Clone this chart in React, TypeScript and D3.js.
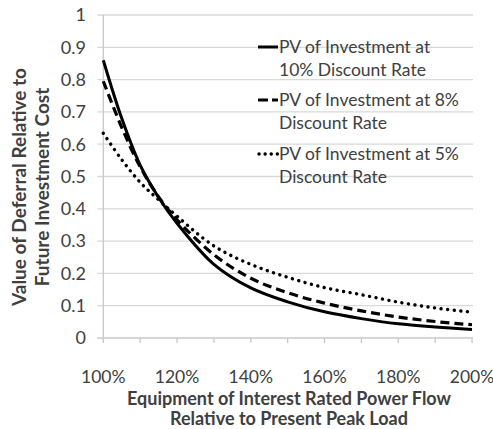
import { useEffect, useRef } from 'react';
import * as d3 from 'd3';

// equipment rating relative to present peak load
const loadRatio = [1.0, 1.05, 1.1, 1.15, 1.2, 1.3, 1.4, 1.5, 1.6, 1.7, 1.8, 1.9, 2.0];
const pv10 = [0.86, 0.68, 0.535, 0.435, 0.355, 0.228, 0.155, 0.112, 0.081, 0.06, 0.044, 0.034, 0.026];
const pv8 = [0.795, 0.652, 0.53, 0.437, 0.366, 0.258, 0.185, 0.14, 0.108, 0.084, 0.065, 0.051, 0.041];
const pv5 = [0.634, 0.552, 0.482, 0.428, 0.377, 0.285, 0.228, 0.188, 0.156, 0.134, 0.111, 0.093, 0.08];

const yTicks = [0, 0.1, 0.2, 0.3, 0.4, 0.5, 0.6, 0.7, 0.8, 0.9, 1];
const xLabels = [1.0, 1.2, 1.4, 1.6, 1.8, 2.0];
const legendLines = [
  ['PV of Investment at', '10% Discount Rate'],
  ['PV of Investment at 8%', 'Discount Rate'],
  ['PV of Investment at 5%', 'Discount Rate'],
];

const App = () => {
  const ref = useRef<SVGSVGElement>(null);

  useEffect(() => {
    const width = 493;
    const height = 429;
    const font = 'Lato, "Open Sans", sans-serif';
    const textColor = '#404040';

    const svg = d3.select(ref.current);
    svg.selectAll('*').remove();
    svg.attr('width', width).attr('height', height);

    const x = d3.scaleLinear().domain([1, 2]).range([103.3, 472]);
    const y = d3.scaleLinear().domain([0, 1]).range([338, 15]);

    // gridlines
    svg.append('g')
      .selectAll('line')
      .data(yTicks.slice(1))
      .enter().append('line')
      .attr('x1', x(1) - 6)
      .attr('x2', x(2) + 1)
      .attr('y1', (d) => y(d))
      .attr('y2', (d) => y(d))
      .attr('stroke', '#d9d9d9')
      .attr('stroke-width', 1.3);

    // axes
    svg.append('line')
      .attr('x1', x(1)).attr('x2', x(1))
      .attr('y1', y(1)).attr('y2', y(0))
      .attr('stroke', '#c8c8c8').attr('stroke-width', 1.3);
    svg.append('line')
      .attr('x1', x(1) - 6).attr('x2', x(2) + 1)
      .attr('y1', y(0)).attr('y2', y(0))
      .attr('stroke', '#c8c8c8').attr('stroke-width', 1.3);

    svg.append('g')
      .selectAll('line')
      .data(d3.range(11).map((i) => 1 + i / 10))
      .enter().append('line')
      .attr('x1', (d) => x(d)).attr('x2', (d) => x(d))
      .attr('y1', y(0)).attr('y2', y(0) + 5)
      .attr('stroke', '#c8c8c8').attr('stroke-width', 1.3);

    // tick labels
    svg.append('g')
      .selectAll('text')
      .data(yTicks)
      .enter().append('text')
      .attr('x', 86)
      .attr('y', (d) => y(d))
      .attr('dy', '0.35em')
      .attr('text-anchor', 'end')
      .attr('font-family', font)
      .attr('font-size', 18)
      .attr('fill', textColor)
      .text((d) => String(d));

    svg.append('g')
      .selectAll('text')
      .data(xLabels)
      .enter().append('text')
      .attr('x', (d) => x(d))
      .attr('y', 383)
      .attr('text-anchor', 'middle')
      .attr('font-family', font)
      .attr('font-size', 17.5)
      .attr('fill', textColor)
      .text((d) => `${Math.round(d * 100)}%`);

    // axis titles
    const xt = svg.append('text')
      .attr('text-anchor', 'middle')
      .attr('font-family', font)
      .attr('font-size', 18)
      .attr('font-weight', 'bold')
      .attr('fill', textColor);
    xt.append('tspan').attr('x', 289).attr('y', 405).text('Equipment of Interest Rated Power Flow');
    xt.append('tspan').attr('x', 289).attr('y', 425).text('Relative to Present Peak Load');

    const yt = svg.append('text')
      .attr('transform', 'translate(0, 187) rotate(-90)')
      .attr('text-anchor', 'middle')
      .attr('font-family', font)
      .attr('font-size', 19)
      .attr('font-weight', 'bold')
      .attr('fill', textColor);
    yt.append('tspan').attr('x', 0).attr('y', 26).text('Value of Deferral Relative to');
    yt.append('tspan').attr('x', 0).attr('y', 49).text('Future Investment Cost');

    // series
    const series = [
      { values: pv10, dash: null, width: 3, cap: 'butt' },
      { values: pv8, dash: '9,5', width: 3.2, cap: 'butt' },
      { values: pv5, dash: '0.1,6.5', width: 3.4, cap: 'round' },
    ];

    const line = d3.line<number>()
      .x((d, i) => x(loadRatio[i]))
      .y((d) => y(d))
      .curve(d3.curveCatmullRom.alpha(0.5));

    series.forEach((s) => {
      svg.append('path')
        .attr('d', line(s.values))
        .attr('fill', 'none')
        .attr('stroke', '#000')
        .attr('stroke-width', s.width)
        .attr('stroke-linecap', s.cap)
        .attr('stroke-dasharray', s.dash);
    });

    // legend
    const legendY = [53, 106, 160];
    legendLines.forEach((lines, i) => {
      const ly = legendY[i];
      const s = series[i];
      if (i === 0) {
        svg.append('line').attr('x1', 258).attr('x2', 278)
          .attr('y1', ly - 6).attr('y2', ly - 6)
          .attr('stroke', '#000').attr('stroke-width', 3);
      } else if (i === 1) {
        svg.append('line').attr('x1', 258).attr('x2', 278)
          .attr('y1', ly - 6).attr('y2', ly - 6)
          .attr('stroke', '#000').attr('stroke-width', 3)
          .attr('stroke-dasharray', '10,4');
      } else {
        svg.append('line').attr('x1', 259).attr('x2', 278)
          .attr('y1', ly - 6).attr('y2', ly - 6)
          .attr('stroke', '#000').attr('stroke-width', s.width)
          .attr('stroke-linecap', 'round')
          .attr('stroke-dasharray', '0.1,6');
      }
      const t = svg.append('text')
        .attr('font-family', font)
        .attr('font-size', 17.5)
        .attr('fill', textColor);
      t.append('tspan').attr('x', 279).attr('y', ly).text(lines[0]);
      t.append('tspan').attr('x', 279).attr('y', ly + 23).text(lines[1]);
    });
  }, []);

  return (
    <div style={{ position: 'absolute', left: 0, top: 0, background: '#fff' }}>
      <svg ref={ref} style={{ display: 'block' }}></svg>
    </div>
  );
};

export default App;
